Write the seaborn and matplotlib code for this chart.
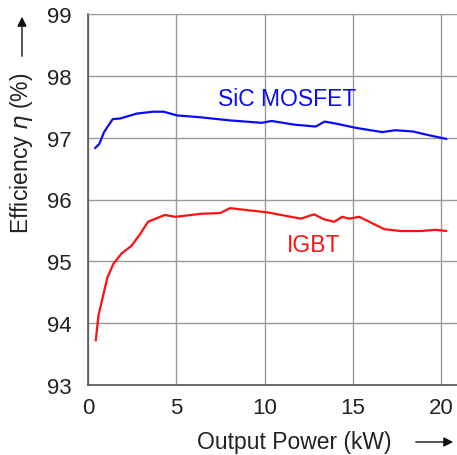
import numpy as np
import pandas as pd
import matplotlib
matplotlib.use("Agg")
import matplotlib.pyplot as plt
import seaborn as sns

# efficiency curves
sic_power = [0.4, 0.64, 0.91, 1.4, 1.82, 2.77, 3.7, 4.28, 5.04, 6.36, 8.0,
             9.85, 10.4, 11.7, 12.9, 13.4, 14.0, 15.15, 16.66, 17.4, 18.4, 19.3, 20.3]
sic_eff = [96.83, 96.9, 97.09, 97.30, 97.31, 97.39, 97.42, 97.42, 97.36, 97.33, 97.28,
           97.24, 97.27, 97.21, 97.18, 97.26, 97.23, 97.16, 97.09, 97.12, 97.10, 97.04, 96.98]

igbt_power = [0.44, 0.59, 1.1, 1.44, 1.91, 2.46, 2.95, 3.4, 4.35, 4.96, 6.44, 7.48,
              8.05, 10.2, 12.05, 12.8, 13.37, 13.94, 14.4, 14.8, 15.36, 16.0, 16.78,
              17.7, 18.86, 19.7, 20.3]
igbt_eff = [93.72, 94.12, 94.74, 94.96, 95.13, 95.25, 95.44, 95.64, 95.75, 95.72, 95.77, 95.78,
            95.86, 95.79, 95.69, 95.76, 95.68, 95.64, 95.72, 95.69, 95.72, 95.63, 95.52,
            95.49, 95.49, 95.51, 95.49]

labels = ["SiC MOSFET", "IGBT"]
colors = ["#0a0aff", "#ff1010"]

df = pd.concat([
    pd.DataFrame({"power": sic_power, "eff": sic_eff, "device": labels[0]}),
    pd.DataFrame({"power": igbt_power, "eff": igbt_eff, "device": labels[1]}),
])

sns.set_style("white")
plt.rcParams["font.family"] = ["Liberation Sans", "DejaVu Sans"]

fig = plt.figure(figsize=(4.57, 4.56), dpi=100)
ax = fig.add_axes([88 / 457, 70 / 456, 1 - 88 / 457, (386 - 15) / 456])

sns.lineplot(data=df, x="power", y="eff", hue="device", palette=colors,
             hue_order=labels, sort=False, linewidth=1.6, legend=False, ax=ax)

ax.set_xlim(0, 20.9)
ax.set_ylim(93, 99)
ax.set_xticks([0, 5, 10, 15, 20])
ax.set_yticks([93, 94, 95, 96, 97, 98, 99])
ax.grid(True, color="#9a9a9a", linewidth=1)
ax.tick_params(axis="both", length=0, labelsize=16, colors="#222222")
ax.tick_params(axis="x", pad=9)
ax.tick_params(axis="y", pad=12)
ax.set_xlabel("")
ax.set_ylabel("")
for s in ["left", "bottom"]:
    ax.spines[s].set_color("#555555")
    ax.spines[s].set_linewidth(1.2)
ax.spines["top"].set_color("#9a9a9a")
ax.spines["right"].set_visible(False)

ax.text(7.39, 97.63, "SiC MOSFET", color=colors[0], fontsize=16.5, va="center", ha="left")
ax.text(11.27, 95.28, "IGBT", color=colors[1], fontsize=16.5, va="center", ha="left")

# axis titles with arrows
fig.text(294 / 457, 1 - 443 / 456, "Output Power (kW)", fontsize=16.5,
         ha="center", va="center", color="#222222")
fig.text(22 / 457, 1 - 153 / 456, "Efficiency $\\eta$ (%)", fontsize=16.5, rotation=90,
         ha="center", va="center", color="#222222")
fig.add_artist(matplotlib.patches.FancyArrowPatch(
    (413 / 457, 1 - 443 / 456), (456 / 457, 1 - 443 / 456), transform=fig.transFigure,
    arrowstyle="-|>", mutation_scale=14, color="#111111", lw=1))
fig.add_artist(matplotlib.patches.FancyArrowPatch(
    (22 / 457, 1 - 60 / 456), (22 / 457, 1 - 15 / 456), transform=fig.transFigure,
    arrowstyle="-|>", mutation_scale=14, color="#111111", lw=1))

fig.savefig("out.png", dpi=100)
